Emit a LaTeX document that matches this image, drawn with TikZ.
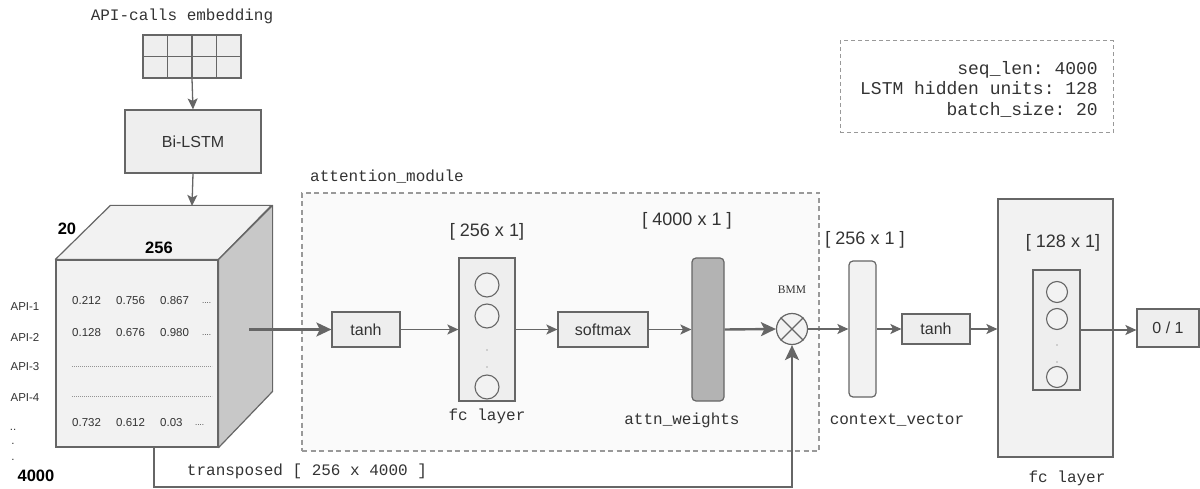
\documentclass[tikz,border=0pt]{standalone}
\usepackage{fontspec}
\setmainfont{Liberation Serif}
\setsansfont{Liberation Sans}
\setmonofont{Liberation Mono}
\usetikzlibrary{arrows.meta,calc}
\definecolor{gc}{HTML}{666666}
\definecolor{tc}{HTML}{333333}
\definecolor{boxfill}{HTML}{EEEEEE}
\definecolor{lightfill}{HTML}{F2F2F2}
\definecolor{sidefill}{HTML}{C8C8C8}
\definecolor{attnfill}{HTML}{B3B3B3}
\definecolor{dashc}{HTML}{999999}
\newcommand{\fsz}[1]{\fontsize{#1}{#1}\selectfont}
\tikzset{
  box/.style={draw=gc, fill=boxfill, line width=1.2pt, inner sep=0pt, text=tc, font=\sffamily\fsz{16}},
  monolbl/.style={text=tc, inner sep=0pt, font=\ttfamily\fsz{16}},
  dimlbl/.style={text=tc, inner sep=0pt, font=\sffamily\fsz{18}},
  small/.style={text=tc, inner sep=0pt, font=\sffamily\fsz{11.5}},
  boldlbl/.style={text=black, inner sep=0pt, font=\sffamily\bfseries\fsz{16.5}},
  neuron/.style={circle, draw=gc, line width=1.1pt, fill=lightfill, inner sep=0pt},
  arr/.style={draw=gc, line width=1.3pt, -{Stealth[length=11pt,width=10pt,inset=2.5pt]}},
  tharr/.style={draw=gc, line width=2.4pt, -{Stealth[length=15pt,width=14pt,inset=3.5pt]}},
  dotc/.style={fill=gc, circle, inner sep=0pt, minimum size=1.4pt}
}
\begin{document}
\begin{tikzpicture}[x=1pt,y=-1pt]
\useasboundingbox (0,0) rectangle (1200,489);

% ---------- embedding + Bi-LSTM ----------
\node[monolbl] (embtxt) at (182,16) {API-calls embedding};
\node[draw=gc, fill=boxfill, line width=1.2pt, minimum width=98pt, minimum height=43pt, inner sep=0pt] (emb) at (192,56.5) {};
\draw[gc, line width=1.2pt] (167.5,35) -- (167.5,78) (192,35) -- (192,78) (216.5,35) -- (216.5,78) (143,56.5) -- (241,56.5);
\node[box, minimum width=136pt, minimum height=63pt] (bilstm) at (193,141.5) {Bi-LSTM};
\draw[arr] (emb.south) -- (bilstm.north);

% ---------- cube ----------
\node[draw=gc, fill=lightfill, line width=1.2pt, minimum width=162pt, minimum height=187pt, inner sep=0pt] (cube) at (137,353.5) {};
\draw[draw=gc, fill=lightfill, line width=1.2pt, line join=round] (cube.north west) -- ++(55,-54) -- ++(161,0) -- (cube.north east) -- cycle;
\draw[draw=gc, fill=sidefill, line width=1.2pt, line join=round] (cube.north east) -- ++(54,-54) -- ++(0,186) -- (cube.south east) -- cycle;
\coordinate (cubetop) at (192,206);
\draw[arr] (bilstm.south) -- (cubetop);

\node[boldlbl] (n20) at (67,229) {20};
\node[boldlbl] (n256) at (159,248) {256};
\node[boldlbl] (n4000) at (36,476) {4000};

\node[small] (api1) at (25,307) {API-1};
\node[small] (api2) at (25,337) {API-2};
\node[small] (api3) at (25,367) {API-3};
\node[small] (api4) at (25,398) {API-4};
\node[small] (dd1) at (13,430) {..};
\node[small] (dd2) at (13,444) {.};
\node[small] (dd3) at (13,460) {.};

\node[small, anchor=west] (v11) at (72,301) {0.212};
\node[small, anchor=west] (v12) at (116,301) {0.756};
\node[small, anchor=west] (v13) at (160,301) {0.867};
\node[small, anchor=west, font=\sffamily\fsz{8}] (v14) at (202,303) {....};
\node[small, anchor=west] (v21) at (72,333) {0.128};
\node[small, anchor=west] (v22) at (116,333) {0.676};
\node[small, anchor=west] (v23) at (160,333) {0.980};
\node[small, anchor=west, font=\sffamily\fsz{8}] (v24) at (202,335) {....};
\draw[gc!70, line width=0.5pt, dash pattern=on 0.8pt off 1.2pt] (72,366) -- (212,366);
\draw[gc!70, line width=0.5pt, dash pattern=on 0.8pt off 1.2pt] (72,396) -- (212,396);
\node[small, anchor=west] (v51) at (72,423) {0.732};
\node[small, anchor=west] (v52) at (116,423) {0.612};
\node[small, anchor=west] (v53) at (160,423) {0.03};
\node[small, anchor=west, font=\sffamily\fsz{8}] (v54) at (195,425) {....};

% ---------- attention module ----------
\node[draw=dashc, fill=white!98!black, line width=1.1pt, dash pattern=on 5pt off 3.5pt, minimum width=517pt, minimum height=258pt, inner sep=0pt] (attmod) at (560.5,322) {};
\node[monolbl, anchor=west] (atttxt) at (310,177) {attention\_module};

\node[box, minimum width=68pt, minimum height=35pt] (tanh1) at (366,329.5) {tanh};
\coordinate (cubeout) at (249,329.5);
\draw[tharr] (cubeout) -- (tanh1.west);

\node[draw=gc, fill=boxfill, line width=1.2pt, minimum width=56pt, minimum height=143pt, inner sep=0pt] (fc1) at (487,329.5) {};
\node[neuron, minimum size=24pt] (c11) at (487,285) {};
\node[neuron, minimum size=24pt] (c12) at (487,316) {};
\node[neuron, minimum size=24pt] (c13) at (487,387) {};
\node[dotc] (d11) at (487,350) {};
\node[dotc] (d12) at (487,367) {};
\node[dimlbl] (fc1dim) at (487,232) {[ 256 x 1]};
\node[monolbl] (fc1txt) at (487,416) {fc layer};
\draw[arr] (tanh1.east) -- (fc1.west);

\node[box, minimum width=90pt, minimum height=35pt] (softmax) at (603,329.5) {softmax};
\draw[arr] (fc1.east) -- (softmax.west);

\node[draw=gc, fill=attnfill, line width=1.2pt, rounded corners=4pt, minimum width=32pt, minimum height=143pt, inner sep=0pt] (attn) at (708,329.5) {};
\node[dimlbl] (attndim) at (687,221) {[ 4000 x 1 ]};
\node[monolbl] (attntxt) at (682,420) {attn\_weights};
\draw[arr] (softmax.east) -- (attn.west);

\node[circle, draw=gc, fill=lightfill, line width=1.2pt, minimum size=31pt, inner sep=0pt] (bmm) at (792,329) {};
\draw[gc, line width=1.2pt] (bmm.north west) -- (bmm.south east) (bmm.north east) -- (bmm.south west);
\node[text=tc, inner sep=0pt, font=\rmfamily\fsz{11.5}] (bmmtxt) at (792,290) {BMM};
\draw[tharr] (attn.east) -- (bmm.west);

% transposed path
\coordinate (tp) at (154,447);
\draw[tharr] (tp) -- (154,487) -| (bmm.south);
\node[monolbl] (tptxt) at (307,471) {transposed [ 256 x 4000 ]};

% ---------- context + output ----------
\node[draw=gc, fill=lightfill, line width=1.2pt, rounded corners=4pt, minimum width=27pt, minimum height=136pt, inner sep=0pt] (ctx) at (862.5,329) {};
\node[dimlbl] (ctxdim) at (865,240) {[ 256 x 1 ]};
\node[monolbl] (ctxtxt) at (897,420) {context\_vector};
\draw[arr] (bmm.east) -- (ctx.west);

\node[box, minimum width=68pt, minimum height=30pt] (tanh2) at (936,329) {tanh};
\draw[arr] (ctx.east) -- (tanh2.west);

\node[draw=gc, fill=lightfill, line width=1.2pt, minimum width=115pt, minimum height=258pt, inner sep=0pt] (fc2) at (1055.5,328) {};
\draw[arr] (tanh2.east) -- (fc2.west |- tanh2.east);
\node[dimlbl] (fc2dim) at (1063,243) {[ 128 x 1]};
\node[draw=gc, fill=boxfill, line width=1.2pt, minimum width=47pt, minimum height=120pt, inner sep=0pt] (fc2in) at (1056.5,330) {};
\node[neuron, minimum size=21pt] (c21) at (1057,292) {};
\node[neuron, minimum size=21pt] (c22) at (1057,319) {};
\node[neuron, minimum size=21pt] (c23) at (1057,377) {};
\node[dotc] (d21) at (1057,345) {};
\node[dotc] (d22) at (1057,362) {};
\node[monolbl] (fc2txt) at (1067,478) {fc layer};

\node[box, minimum width=62pt, minimum height=38pt] (out) at (1168,328) {0 / 1};
\draw[arr] (fc2in.east) -- (out.west |- fc2in.east);

% ---------- info box ----------
\node[draw=dashc, line width=1pt, dash pattern=on 4pt off 3pt, minimum width=273pt, minimum height=92pt, inner sep=0pt] (info) at (976.5,87) {};
\node[text=tc, inner sep=0pt, anchor=east, align=right, font=\ttfamily\fontsize{18}{20.5}\selectfont] (infotxt) at (1098,89) {seq\_len: 4000\\LSTM hidden units: 128\\batch\_size: 20};
\end{tikzpicture}
\end{document}
